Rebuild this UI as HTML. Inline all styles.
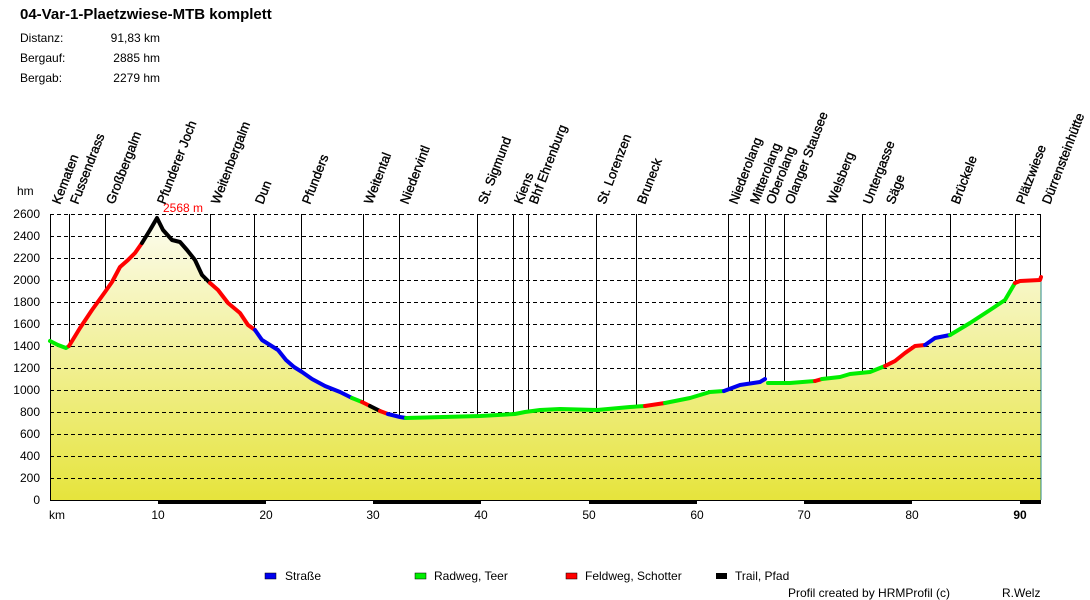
<!DOCTYPE html>
<html><head><meta charset="utf-8"><style>
body{margin:0;background:#fff;}
svg{display:block;font-family:"Liberation Sans",Arial,sans-serif;}
</style></head><body>
<svg width="1090" height="600" viewBox="0 0 1090 600" xmlns="http://www.w3.org/2000/svg">
<defs>
<linearGradient id="g" x1="0" y1="214" x2="0" y2="500" gradientUnits="userSpaceOnUse">
<stop offset="0" stop-color="#fcfcf2"/><stop offset="1" stop-color="#e6e43c"/>
</linearGradient>
</defs>
<text x="20" y="19" font-size="15" font-weight="bold">04-Var-1-Plaetzwiese-MTB komplett</text>
<g font-size="12">
<text x="20" y="42">Distanz:</text><text x="160" y="42" text-anchor="end">91,83 km</text>
<text x="20" y="62">Bergauf:</text><text x="160" y="62" text-anchor="end">2885 hm</text>
<text x="20" y="82">Bergab:</text><text x="160" y="82" text-anchor="end">2279 hm</text>
</g>
<polygon fill="url(#g)" points="50,500 50,341 58,345 66,348 69,346 80,328 92,310 105,292 112,282 120,267 128,260 135,253 142,243 150,230 157,218 163,230 172,240 180,242 187,250 195,260 202,275 210,283 218,290 228,303 240,313 248,325 255,330 262,340 270,345 278,350 286,360 294,367 302,372 312,379 325,386 340,392 352,398 362,402 372,407 380,411 388,414 400,417 406,418 480,416 515,414 525,412 540,410 560,409 597,410 630,407 645,406 665,403 690,398 710,392 724,391 740,385 760,382 765,379 768,383 790,383 815,381 822,379 840,377 850,374 870,372 885,366 895,361 905,353 915,346 925,345 935,338 950,335 970,323 990,310 1005,300 1015,283 1020,281 1040,280 1041,277 1041,500"/>
<line x1="1041" y1="277" x2="1041" y2="500" stroke="#2a8a8a" stroke-width="1"/>
<g stroke="#000" stroke-width="1" stroke-dasharray="4,3">
<line x1="50" y1="214.5" x2="1041" y2="214.5"/><line x1="50" y1="236.5" x2="1041" y2="236.5"/>
<line x1="50" y1="258.5" x2="1041" y2="258.5"/><line x1="50" y1="280.5" x2="1041" y2="280.5"/>
<line x1="50" y1="302.5" x2="1041" y2="302.5"/><line x1="50" y1="324.5" x2="1041" y2="324.5"/>
<line x1="50" y1="346.5" x2="1041" y2="346.5"/><line x1="50" y1="368.5" x2="1041" y2="368.5"/>
<line x1="50" y1="390.5" x2="1041" y2="390.5"/><line x1="50" y1="412.5" x2="1041" y2="412.5"/>
<line x1="50" y1="434.5" x2="1041" y2="434.5"/><line x1="50" y1="456.5" x2="1041" y2="456.5"/>
<line x1="50" y1="478.5" x2="1041" y2="478.5"/>
</g>
<line x1="50.5" y1="214" x2="50.5" y2="501" stroke="#000"/>
<line x1="50" y1="500.5" x2="1041" y2="500.5" stroke="#000"/>
<g stroke="#000" stroke-width="1">
<line x1="69.5" y1="214" x2="69.5" y2="346"/><line x1="105.5" y1="214" x2="105.5" y2="292"/>
<line x1="210.5" y1="214" x2="210.5" y2="283"/><line x1="254.5" y1="214" x2="254.5" y2="330"/>
<line x1="301.5" y1="214" x2="301.5" y2="372"/><line x1="363.5" y1="214" x2="363.5" y2="402"/>
<line x1="399.5" y1="214" x2="399.5" y2="417"/><line x1="477.5" y1="214" x2="477.5" y2="416"/>
<line x1="513.5" y1="214" x2="513.5" y2="414"/><line x1="528.5" y1="214" x2="528.5" y2="412"/>
<line x1="596.5" y1="214" x2="596.5" y2="410"/><line x1="636.5" y1="214" x2="636.5" y2="407"/>
<line x1="728.5" y1="214" x2="728.5" y2="390"/><line x1="749.5" y1="214" x2="749.5" y2="384"/>
<line x1="765.5" y1="214" x2="765.5" y2="380"/><line x1="784.5" y1="214" x2="784.5" y2="383"/>
<line x1="826.5" y1="214" x2="826.5" y2="380"/><line x1="862.5" y1="214" x2="862.5" y2="372"/>
<line x1="885.5" y1="214" x2="885.5" y2="366"/><line x1="950.5" y1="214" x2="950.5" y2="335"/>
<line x1="1015.5" y1="214" x2="1015.5" y2="283"/><line x1="1040.5" y1="214" x2="1040.5" y2="278"/>
</g>
<g fill="none" stroke-width="4" stroke-linejoin="round" stroke-linecap="round">
<polyline stroke="#00ee00" points="50,341 58,345 66,348 69,346"/>
<polyline stroke="#ff0000" points="69,346 80,328 92,310 105,292 112,282 120,267 128,260 135,253 142,243"/>
<polyline stroke="#000" points="142,243 150,230 157,218 163,230 172,240 180,242 187,250 195,260 202,275 210,283"/>
<polyline stroke="#ff0000" points="210,283 218,290 228,303 240,313 248,325 255,330"/>
<polyline stroke="#0000ee" points="255,330 262,340 270,345 278,350 286,360 294,367 302,372 312,379 325,386 340,392 352,398"/>
<polyline stroke="#00ee00" points="352,398 362,402"/>
<polyline stroke="#ff0000" points="362,402 370,406"/>
<polyline stroke="#000" points="370,406 380,411"/>
<polyline stroke="#ff0000" points="380,411 388,414"/>
<polyline stroke="#0000ee" points="388,414 400,417 406,418"/>
<polyline stroke="#00ee00" points="406,418 480,416 515,414 525,412 540,410 560,409 597,410 630,407 645,406"/>
<polyline stroke="#ff0000" points="645,406 665,403"/>
<polyline stroke="#00ee00" points="665,403 690,398 710,392 724,391"/>
<polyline stroke="#0000ee" points="724,391 740,385 760,382 765,379"/>
<polyline stroke="#00ee00" points="768,383 790,383 815,381"/>
<polyline stroke="#ff0000" points="815,381 822,379"/>
<polyline stroke="#00ee00" points="822,379 840,377 850,374 870,372 885,366"/>
<polyline stroke="#ff0000" points="885,366 895,361 905,353 915,346 925,345"/>
<polyline stroke="#0000ee" points="925,345 935,338 950,335"/>
<polyline stroke="#00ee00" points="950,335 970,323 990,310 1005,300 1015,283"/>
<polyline stroke="#ff0000" points="1015,283 1020,281 1040,280 1041,277"/>
</g>
<text x="163" y="212" font-size="12" fill="#ff0000">2568 m</text>
<g font-size="12" text-anchor="end">
<text x="17" y="195" text-anchor="start">hm</text>
<text x="40" y="218">2600</text><text x="40" y="240">2400</text><text x="40" y="262">2200</text>
<text x="40" y="284">2000</text><text x="40" y="306">1800</text><text x="40" y="328">1600</text>
<text x="40" y="350">1400</text><text x="40" y="372">1200</text><text x="40" y="394">1000</text>
<text x="40" y="416">800</text><text x="40" y="438">600</text><text x="40" y="460">400</text>
<text x="40" y="482">200</text><text x="40" y="504">0</text>
</g>
<g fill="#000">
<rect x="158" y="500" width="108" height="4"/><rect x="373" y="500" width="108" height="4"/>
<rect x="589" y="500" width="108" height="4"/><rect x="804" y="500" width="108" height="4"/>
<rect x="1020" y="500" width="21" height="4"/>
</g>
<g font-size="12" text-anchor="middle">
<text x="57" y="519">km</text><text x="158" y="519">10</text><text x="266" y="519">20</text>
<text x="373" y="519">30</text><text x="481" y="519">40</text><text x="589" y="519">50</text>
<text x="697" y="519">60</text><text x="804" y="519">70</text><text x="912" y="519">80</text>
<text x="1020" y="519" font-weight="bold">90</text>
</g>
<g font-size="13" stroke="#000" stroke-width="0.35">
<text transform="translate(60,205) rotate(-69)">Kematen</text>
<text transform="translate(78,205) rotate(-69)">Fussendrass</text>
<text transform="translate(114,205) rotate(-69)">Großbergalm</text>
<text transform="translate(165,205) rotate(-69)">Pfunderer Joch</text>
<text transform="translate(219,205) rotate(-69)">Weitenbergalm</text>
<text transform="translate(263,205) rotate(-69)">Dun</text>
<text transform="translate(310,205) rotate(-69)">Pfunders</text>
<text transform="translate(372,205) rotate(-69)">Weitental</text>
<text transform="translate(408,205) rotate(-69)">Niedervintl</text>
<text transform="translate(486,205) rotate(-69)">St. Sigmund</text>
<text transform="translate(522,205) rotate(-69)">Kiens</text>
<text transform="translate(537,205) rotate(-69)">Bhf Ehrenburg</text>
<text transform="translate(605,205) rotate(-69)">St. Lorenzen</text>
<text transform="translate(645,205) rotate(-69)">Bruneck</text>
<text transform="translate(737,205) rotate(-69)">Niederolang</text>
<text transform="translate(758,205) rotate(-69)">Mitterolang</text>
<text transform="translate(774,205) rotate(-69)">Oberolang</text>
<text transform="translate(793,205) rotate(-69)">Olanger Stausee</text>
<text transform="translate(835,205) rotate(-69)">Welsberg</text>
<text transform="translate(871,205) rotate(-69)">Untergasse</text>
<text transform="translate(894,205) rotate(-69)">Säge</text>
<text transform="translate(959,205) rotate(-69)">Brückele</text>
<text transform="translate(1024,205) rotate(-69)">Plätzwiese</text>
<text transform="translate(1050,205) rotate(-69)">Dürrensteinhütte</text>
</g>
<g font-size="12">
<rect x="265" y="573" width="11" height="6" fill="#0000ee" stroke="#000" stroke-width="0.5"/><text x="285" y="580">Straße</text>
<rect x="415" y="573" width="11" height="6" fill="#00ee00" stroke="#000" stroke-width="0.5"/><text x="434" y="580">Radweg, Teer</text>
<rect x="566" y="573" width="11" height="6" fill="#ff0000" stroke="#000" stroke-width="0.5"/><text x="585" y="580">Feldweg, Schotter</text>
<rect x="716" y="573" width="11" height="6" fill="#000"/><text x="735" y="580">Trail, Pfad</text>
<text x="788" y="597">Profil created by HRMProfil (c)</text>
<text x="1002" y="597">R.Welz</text>
</g>
</svg>
</body></html>
